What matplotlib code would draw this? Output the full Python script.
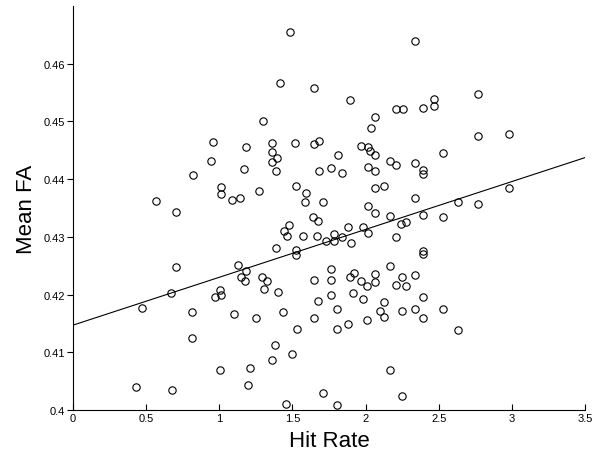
import matplotlib
matplotlib.use("Agg")
import matplotlib.pyplot as plt
import numpy as np

# -----------------------------
# Data
# -----------------------------
hit_rate = [
    0.957, 0.943, 0.820, 0.565, 1.014, 1.014, 1.481, 1.417, 1.645, 1.894,
    1.297, 1.185, 1.360, 1.515, 1.645, 1.679, 1.360, 1.395, 1.360, 1.388,
    1.169, 1.811, 1.684, 1.766, 1.839, 1.967, 2.017, 2.028, 2.065, 2.017,
    2.065, 1.087, 1.144, 1.271, 1.524, 1.595, 1.588, 1.709, 2.017, 2.336,
    2.771, 2.465, 2.465, 2.206, 2.256, 2.392, 2.062, 2.035, 2.771, 2.980,
    2.529, 2.167, 2.208, 2.336, 2.392, 2.392, 2.062, 2.126, 2.336, 2.634,
    2.771, 2.980,
    0.707, 0.707, 0.670, 0.474, 0.816, 0.816, 0.431, 0.679, 0.973, 1.003,
    1.014, 1.005, 1.643, 1.675, 1.474, 1.442, 1.461, 1.572, 1.668, 1.388,
    1.524, 1.524, 1.732, 1.782, 1.782, 1.837, 1.878, 1.897, 1.982, 2.016,
    1.131, 1.185, 1.146, 1.178, 1.294, 1.324, 1.306, 1.404, 1.103, 1.249,
    1.433, 1.531, 1.645, 1.766, 1.766, 1.766, 1.677, 1.805, 1.645, 1.805,
    1.878, 1.891, 1.919, 1.969, 2.007, 1.917, 1.982, 2.007, 1.381, 1.360,
    1.499, 1.210, 1.194, 1.709, 1.459, 1.805, 2.062, 2.165, 2.392, 2.529,
    2.244, 2.279, 2.206, 2.392, 2.392, 2.170, 2.062, 2.062, 2.247, 2.336,
    2.206, 2.279, 2.392, 2.128, 2.096, 2.128, 2.247, 2.336, 2.392, 2.529,
    2.634, 2.170, 2.247,
]
mean_fa = [
    0.4464, 0.4431, 0.4407, 0.4362, 0.4386, 0.4374, 0.4654, 0.4566, 0.4558, 0.4537,
    0.4500, 0.4456, 0.4463, 0.4463, 0.4461, 0.4466, 0.4447, 0.4437, 0.4430, 0.4414,
    0.4417, 0.4442, 0.4414, 0.4419, 0.4411, 0.4458, 0.4456, 0.4449, 0.4442, 0.4421,
    0.4414, 0.4364, 0.4367, 0.4380, 0.4388, 0.4376, 0.4360, 0.4360, 0.4354, 0.4640,
    0.4547, 0.4539, 0.4527, 0.4521, 0.4521, 0.4523, 0.4507, 0.4489, 0.4474, 0.4478,
    0.4446, 0.4431, 0.4425, 0.4427, 0.4415, 0.4409, 0.4385, 0.4388, 0.4367, 0.4360,
    0.4356, 0.4384,
    0.4343, 0.4247, 0.4202, 0.4177, 0.4169, 0.4124, 0.4040, 0.4035, 0.4196, 0.4208,
    0.4200, 0.4069, 0.4335, 0.4327, 0.4321, 0.4310, 0.4301, 0.4302, 0.4302, 0.4280,
    0.4278, 0.4268, 0.4292, 0.4304, 0.4292, 0.4300, 0.4317, 0.4289, 0.4317, 0.4306,
    0.4251, 0.4240, 0.4230, 0.4223, 0.4231, 0.4224, 0.4209, 0.4204, 0.4167, 0.4159,
    0.4169, 0.4140, 0.4226, 0.4245, 0.4226, 0.4200, 0.4189, 0.4175, 0.4159, 0.4140,
    0.4149, 0.4231, 0.4238, 0.4224, 0.4214, 0.4202, 0.4193, 0.4156, 0.4112, 0.4087,
    0.4097, 0.4073, 0.4044, 0.4030, 0.4011, 0.4008, 0.4341, 0.4336, 0.4338, 0.4335,
    0.4322, 0.4325, 0.4300, 0.4275, 0.4271, 0.4249, 0.4236, 0.4222, 0.4231, 0.4233,
    0.4216, 0.4214, 0.4196, 0.4187, 0.4171, 0.4161, 0.4171, 0.4175, 0.4159, 0.4175,
    0.4138, 0.4069, 0.4024,
]

# regression line
fit_intercept = 0.4147
fit_slope = 0.00829

x_ticks = [0, 0.5, 1, 1.5, 2, 2.5, 3, 3.5]
x_labels = ["0", "0.5", "1", "1.5", "2", "2.5", "3", "3.5"]
y_ticks = [0.40, 0.41, 0.42, 0.43, 0.44, 0.45, 0.46]
y_labels = ["0.4", "0.41", "0.42", "0.43", "0.44", "0.45", "0.46"]

# -----------------------------
# Plot
# -----------------------------
plt.rcParams["font.family"] = ["Liberation Sans", "DejaVu Sans"]

fig = plt.figure(figsize=(5.95, 4.64), dpi=100)
ax = fig.add_axes([0.1227, 0.1142, 0.8605, 0.871])

ax.plot(hit_rate, mean_fa, linestyle="none", marker="o", markersize=5.3,
        markerfacecolor="none", markeredgecolor="black", markeredgewidth=0.8)

line_x = np.array([0, 3.5])
ax.plot(line_x, fit_intercept + fit_slope * line_x, color="black", linewidth=0.8)

ax.set_xlim(0, 3.5)
ax.set_ylim(0.4, 0.47)

ax.spines["top"].set_visible(False)
ax.spines["right"].set_visible(False)
ax.spines["left"].set_linewidth(0.8)
ax.spines["bottom"].set_linewidth(0.8)

ax.set_xticks(x_ticks)
ax.set_xticklabels(x_labels)
ax.set_yticks(y_ticks)
ax.set_yticklabels(y_labels)
ax.tick_params(axis="x", direction="in", length=4, width=0.8, pad=2, labelsize=8)
ax.tick_params(axis="y", direction="out", length=4, width=0.8, pad=1.5, labelsize=8)

ax.set_xlabel("Hit Rate", fontsize=16, labelpad=5)
ax.set_ylabel("Mean FA", fontsize=16, labelpad=5)

fig.savefig("out.png", dpi=100)
